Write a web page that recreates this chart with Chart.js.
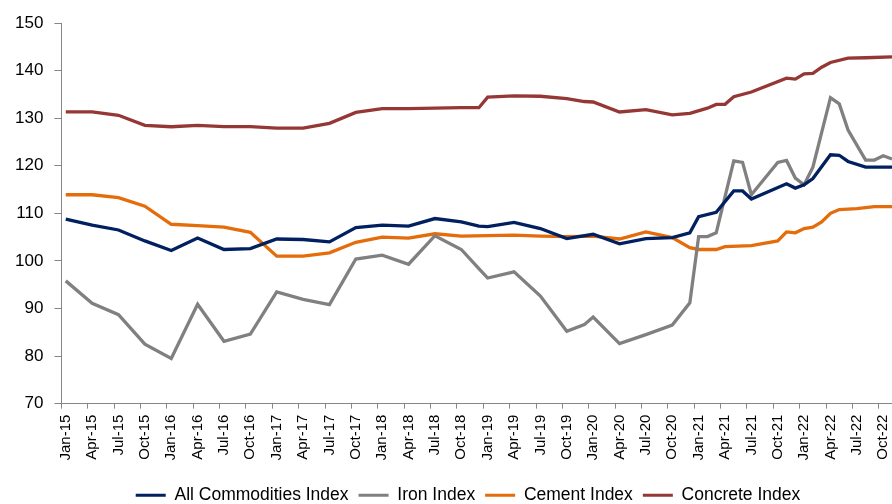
<!DOCTYPE html>
<html>
<head>
<meta charset="utf-8">
<script src="https://cdn.jsdelivr.net/npm/chart.js@4.4.1/dist/chart.umd.min.js"></script>
<style>
  html, body { margin: 0; padding: 0; background: #fff; overflow: hidden; }
  #wrap { width: 916px; height: 504px; position: relative; }
</style>
</head>
<body>
<div id="wrap"><canvas id="indexChart"></canvas></div>
<script>
// month categories Jan-15 .. Nov-22, a label is shown every third month
const monthNames = ["Jan", "Feb", "Mar", "Apr", "May", "Jun", "Jul", "Aug", "Sep", "Oct", "Nov", "Dec"];
const years = ["15", "16", "17", "18", "19", "20", "21", "22"];
const months = [];
years.forEach((y) => monthNames.forEach((m) => months.push(m + "-" + y)));
months.length = 95; // series stop at Nov-22

const n = null;
const allCommodities = [
  108.8, n, n, 107.5, n, n, 106.5, n, n, 104.2, n, n,
  102.2, n, n, 104.8, n, n, 102.4, n, n, 102.6, n, n,
  104.6, n, n, 104.5, n, n, 104.0, n, n, 107.0, n, n,
  107.5, n, n, 107.3, n, n, 108.9, n, n, 108.2, n, 107.3,
  107.2, n, n, 108.1, n, n, 106.8, n, n, 104.7, n, n,
  105.6, n, n, 103.6, n, n, 104.7, n, n, 104.9, n, 105.9,
  109.3, n, 110.2, n, 114.7, 114.7, 113.0, n, n, n, 116.2, 115.3,
  116.0, 117.3, n, 122.3, 122.2, 120.9, n, 119.7, n, n, 119.7,
];
const iron = [
  95.8, n, n, 91.1, n, n, 88.7, n, n, 82.5, n, n,
  79.5, n, n, 90.9, n, n, 83.1, n, n, 84.6, n, n,
  93.5, n, n, 91.9, n, n, 90.8, n, n, 100.4, n, n,
  101.2, n, n, 99.3, n, n, 105.3, n, n, 102.4, n, 98.4,
  96.4, n, n, 97.7, n, n, 92.6, n, n, 85.2, n, 86.6,
  88.2, n, n, 82.6, n, n, 84.5, n, n, 86.5, n, 91.2,
  105.1, 105.1, 105.9, n, 121.0, 120.7, 113.9, n, n, 120.7, 121.1, 117.4,
  116.0, 119.7, n, 134.3, 133.0, 127.5, n, 121.2, 121.2, 122.1, 121.4,
];
const cement = [
  113.9, n, n, 113.9, n, n, 113.3, n, n, 111.5, n, n,
  107.7, n, n, 107.4, n, n, 107.1, n, n, 106.0, n, n,
  101.0, n, n, 101.0, n, n, 101.7, n, n, 103.9, n, n,
  105.0, n, n, 104.8, n, n, 105.7, n, n, 105.2, n, n,
  105.3, n, n, 105.4, n, n, 105.2, n, n, 105.1, n, n,
  105.2, n, n, 104.6, n, n, 106.1, n, n, 104.9, n, 102.8,
  102.4, n, 102.4, 103.0, n, n, 103.2, n, n, 104.2, 106.1, 105.9,
  106.8, 107.1, 108.2, 110.0, 110.8, n, 111.0, n, 111.4, n, 111.4,
];
const concrete = [
  131.3, n, n, 131.3, n, n, 130.6, n, n, 128.5, n, n,
  128.2, n, n, 128.5, n, n, 128.2, n, n, 128.2, n, n,
  127.9, n, n, 127.9, n, n, 128.9, n, n, 131.2, n, n,
  132.0, n, n, 132.0, n, n, 132.1, n, n, 132.2, n, 132.2,
  134.4, n, n, 134.7, n, n, 134.6, n, n, 134.1, n, 133.5,
  133.4, n, n, 131.3, n, n, 131.8, n, n, 130.7, n, 131.0,
  n, 132.1, 132.9, 132.9, 134.5, n, 135.5, n, n, n, 138.4, 138.2,
  139.3, 139.4, 140.7, 141.7, n, 142.6, n, 142.7, n, n, 142.9,
];

const seriesNames = ["All Commodities Index", "Iron Index", "Cement Index", "Concrete Index"];
const seriesColors = ["#002060", "#808080", "#E46C0A", "#953735"];
const seriesData = [allCommodities, iron, cement, concrete];

const axisColor = "#868686";

// nudge the legend a bit lower and to the right, like the original
const legendShift = {
  id: "legendShift",
  afterUpdate(chart) {
    const lg = chart.legend;
    const dx = 8, dy = 10;
    lg.top += dy; lg.bottom += dy;
    lg.left += dx; lg.right += dx;
    (lg.legendHitBoxes || []).forEach((h) => { h.top += dy; h.left += dx; });
  },
};

const ctx = document.getElementById("indexChart").getContext("2d");
Chart.defaults.font.family = "'Liberation Sans', Arial, sans-serif";
Chart.defaults.color = "#000";

new Chart(ctx, {
  type: "line",
  data: {
    labels: months,
    datasets: seriesData.map((data, i) => ({
      label: seriesNames[i],
      data: data,
      borderColor: seriesColors[i],
      backgroundColor: seriesColors[i],
      borderWidth: 3.3,
      pointRadius: 0,
      tension: 0,
      spanGaps: true,
    })),
  },
  plugins: [legendShift],
  options: {
    responsive: true,
    maintainAspectRatio: false,
    animation: false,
    layout: { padding: { top: 23, right: 0, left: 4, bottom: 0 } },
    scales: {
      x: {
        offset: true,
        grid: {
          offset: true,
          drawOnChartArea: false,
          tickLength: 5,
          color: (c) => (c.index % 3 === 0 ? axisColor : "rgba(0,0,0,0)"),
        },
        border: { color: axisColor, width: 1 },
        ticks: {
          autoSkip: false,
          minRotation: 90,
          maxRotation: 90,
          padding: 6,
          font: { size: 15 },
          callback: function (value, index) {
            return index % 3 === 0 ? months[index] : "";
          },
        },
      },
      y: {
        min: 70,
        max: 150,
        grid: { drawOnChartArea: false, tickLength: 7, color: axisColor },
        border: { color: axisColor, width: 1 },
        ticks: { stepSize: 10, padding: 11, font: { size: 17 } },
      },
    },
    plugins: {
      tooltip: { enabled: false },
      legend: {
        position: "bottom",
        labels: {
          boxWidth: 30,
          boxHeight: 3,
          padding: 10,
          font: { size: 17.5 },
          generateLabels: (chart) =>
            Chart.defaults.plugins.legend.labels.generateLabels(chart).map((l) => ({
              ...l,
              fillStyle: l.strokeStyle,
              lineWidth: 0,
            })),
        },
      },
    },
  },
});
</script>
</body>
</html>
